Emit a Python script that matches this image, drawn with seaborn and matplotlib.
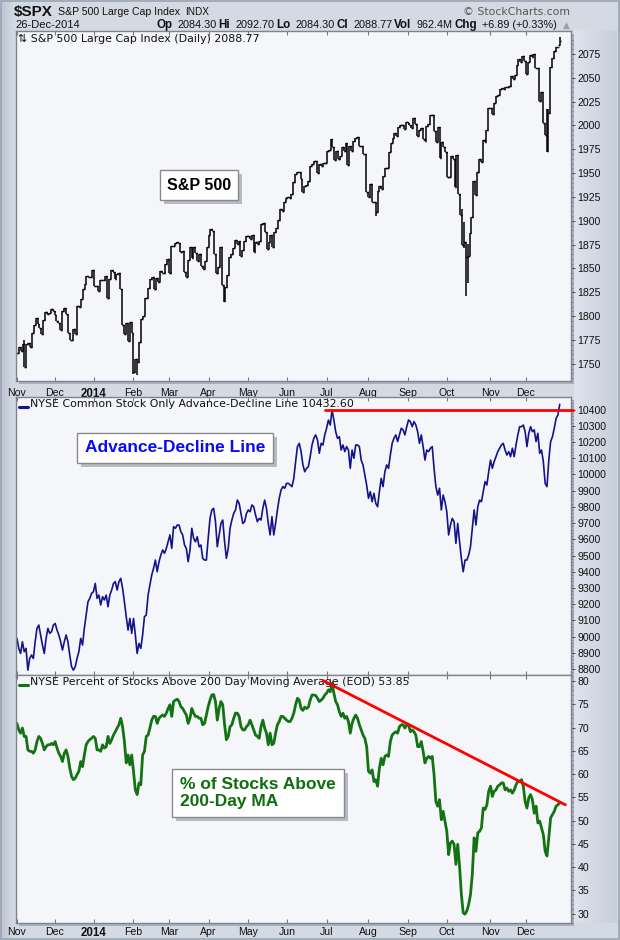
import numpy as np
import pandas as pd
import matplotlib
matplotlib.use("Agg")
import matplotlib.pyplot as plt
import matplotlib.patheffects as pe
from matplotlib.patches import Rectangle
from matplotlib.ticker import FixedLocator, MultipleLocator, NullFormatter
import seaborn as sns

# ---------------- DATA ----------------
holidays = ["2013-11-28", "2013-12-25", "2014-01-01", "2014-01-20", "2014-02-17",
            "2014-04-18", "2014-05-26", "2014-07-04", "2014-09-01", "2014-11-27",
            "2014-12-25", "2015-01-01"]

nov13 = [1761.6, 1767.9, 1763.0, 1770.5, 1747.2, 1770.6, 1771.9, 1768.0, 1782.0, 1790.6,
         1798.2, 1791.5, 1787.9, 1781.4, 1795.9, 1804.8, 1802.5, 1802.8, 1807.2, 1805.8]
dec13 = [1800.9, 1795.2, 1792.8, 1785.0, 1805.1, 1808.4, 1802.6, 1782.2, 1775.5, 1775.3,
         1786.5, 1781.0, 1810.7, 1809.6, 1818.3, 1828.0, 1833.3, 1842.0, 1841.4, 1841.1, 1848.4]
jan14 = [1832.0, 1831.4, 1826.8, 1837.9, 1837.5, 1838.1, 1842.4, 1819.2, 1838.9, 1848.4,
         1845.9, 1838.7, 1843.8, 1844.9, 1828.5, 1790.3, 1781.6, 1792.5, 1774.2, 1794.2, 1782.6]
feb14 = [1741.9, 1755.2, 1751.6, 1773.4, 1797.0, 1799.8, 1819.3, 1819.3, 1829.8, 1838.6,
         1840.8, 1828.8, 1839.8, 1836.3, 1847.6, 1845.1, 1845.2, 1854.3, 1859.5]
mar14 = [1845.7, 1873.8, 1873.8, 1877.0, 1878.0, 1877.2, 1867.6, 1868.2, 1846.3, 1841.1,
         1858.8, 1872.3, 1860.8, 1872.0, 1866.5, 1857.4, 1865.6, 1852.6, 1849.0, 1857.6, 1872.3]
apr14 = [1885.5, 1890.9, 1888.8, 1865.1, 1845.0, 1852.0, 1872.2, 1833.1, 1815.7, 1830.6,
         1843.0, 1862.3, 1864.9, 1871.9, 1879.6, 1875.4, 1878.6, 1863.4, 1869.4, 1878.3, 1884.0]
may14 = [1883.7, 1881.1, 1884.7, 1867.7, 1878.2, 1875.6, 1878.5, 1896.7, 1897.5, 1888.5,
         1870.9, 1877.9, 1885.1, 1872.8, 1888.0, 1892.5, 1900.5, 1911.9, 1909.8, 1920.0, 1923.6]
jun14 = [1925.0, 1924.2, 1927.9, 1940.5, 1949.4, 1951.3, 1950.8, 1943.9, 1930.1, 1936.2,
         1937.8, 1942.0, 1957.0, 1959.5, 1962.9, 1962.6, 1950.0, 1959.5, 1957.2, 1961.0, 1960.2]
jul14 = [1973.3, 1974.6, 1985.4, 1977.7, 1963.7, 1972.8, 1964.7, 1967.6, 1977.1, 1973.3,
         1981.6, 1958.1, 1978.2, 1973.6, 1983.5, 1987.0, 1988.0, 1978.3, 1978.9, 1970.0, 1970.1, 1930.7]
aug14 = [1925.2, 1939.0, 1920.2, 1920.2, 1909.6, 1931.6, 1936.9, 1933.8, 1946.7, 1955.2,
         1955.1, 1971.7, 1981.6, 1986.5, 1992.4, 1988.4, 1997.9, 2000.0, 2000.1, 1996.7, 2003.4]
sep14 = [2002.3, 2000.7, 1997.7, 2007.7, 2001.5, 1988.4, 1995.7, 1997.5, 1985.5, 1984.1,
         1999.0, 2001.6, 2011.4, 2010.4, 1994.3, 1982.8, 1998.3, 1966.0, 1982.9, 1977.8, 1972.3]
oct14 = [1946.2, 1946.2, 1967.9, 1964.8, 1935.1, 1968.9, 1928.2, 1906.1, 1874.7, 1877.7,
         1862.5, 1862.8, 1886.8, 1904.0, 1941.3, 1927.1, 1950.8, 1964.6, 1961.6, 1985.1,
         1982.3, 1994.7, 2018.1]
nov14 = [2017.8, 2012.1, 2023.6, 2031.2, 2032.0, 2038.3, 2039.7, 2038.3, 2039.8, 2039.8,
         2041.3, 2051.8, 2048.7, 2052.8, 2063.5, 2069.4, 2067.0, 2072.8, 2067.6]
dec14 = [2053.4, 2066.6, 2074.3, 2071.9, 2075.4, 2060.3, 2059.8, 2026.1, 2035.3, 2002.3,
         1989.6, 1972.7, 2012.9, 2061.2, 2070.7, 2078.5, 2082.2, 2081.88, 2088.77]

spx_close = (nov13 + dec13 + jan14 + feb14 + mar14 + apr14 + may14 + jun14 + jul14 +
             aug14 + sep14 + oct14 + nov14 + dec14)

# intraday extremes that reach beyond the close-to-close span
spx_high_extra = {"2013-11-07": 1774.5, "2014-10-13": 1912.1, "2014-10-14": 1898.7,
                  "2014-10-15": 1874.1, "2014-10-16": 1876.0, "2014-12-16": 2016.9,
                  "2014-12-17": 2016.8, "2014-12-26": 2092.7}
spx_low_extra = {"2013-11-07": 1746.4, "2014-02-03": 1739.7, "2014-02-05": 1737.9,
                 "2014-04-11": 1814.4, "2014-08-07": 1904.8, "2014-10-13": 1874.1,
                 "2014-10-14": 1871.8, "2014-10-15": 1820.7, "2014-10-16": 1835.0,
                 "2014-12-16": 1972.6, "2014-12-17": 1974.0}
spx_open_extra = {"2014-12-26": 2084.3}
spx_volume_text = "962.4M"

ad_line = [8989, 8927, 8896, 8968, 8907, 8927, 8793, 8865, 8886, 8865, 8968, 9051, 9071, 9010,
           8948, 8896, 8989, 9051, 9020, 9030, 9071, 9081, 9040, 9010, 8968, 8917, 8968, 9010,
           8968, 8886, 8814, 8793, 8814, 8865, 8907, 8989, 8948, 9051, 9133, 9215, 9236, 9267,
           9277, 9328, 9236, 9256, 9195, 9246, 9226, 9256, 9184, 9256, 9287, 9328, 9339, 9287,
           9339, 9359, 9298, 9215, 9123, 9040, 9112, 9020, 9112, 9010, 8896, 8958, 8927, 9010,
           9123, 9133, 9256, 9318, 9380, 9421, 9472, 9400, 9462, 9503, 9534, 9514, 9544, 9585,
           9627, 9544, 9678, 9668, 9688, 9688, 9647, 9627, 9565, 9544, 9462, 9534, 9668, 9606,
           9585, 9616, 9554, 9565, 9483, 9472, 9472, 9606, 9729, 9781, 9791, 9709, 9554, 9627,
           9698, 9719, 9585, 9483, 9544, 9668, 9719, 9760, 9781, 9842, 9822, 9760, 9698, 9709,
           9760, 9781, 9770, 9812, 9801, 9750, 9709, 9729, 9719, 9791, 9842, 9791, 9698, 9627,
           9740, 9627, 9698, 9781, 9853, 9904, 9925, 9915, 9945, 9945, 9935, 9925, 9976, 10079,
           10172, 10192, 10141, 10059, 10017, 10038, 10048, 10110, 10182, 10223, 10244, 10213,
           10131, 10192, 10182, 10244, 10285, 10336, 10305, 10398, 10336, 10264, 10223, 10233,
           10151, 10182, 10141, 10172, 10151, 10038, 10151, 10100, 10182, 10182, 10172, 10089,
           10059, 9997, 9935, 9853, 9894, 9832, 9884, 9822, 9801, 9894, 9976, 9925, 10017, 10059,
           10038, 10120, 10192, 10223, 10244, 10203, 10244, 10285, 10275, 10244, 10295, 10336,
           10326, 10295, 10326, 10305, 10264, 10192, 10244, 10172, 10089, 10151, 10141, 10162,
           10172, 10038, 9925, 9873, 9915, 9781, 9873, 9832, 9770, 9627, 9688, 9729, 9709, 9575,
           9698, 9585, 9483, 9400, 9472, 9472, 9503, 9554, 9668, 9781, 9688, 9801, 9842, 9832,
           9894, 9956, 9935, 10017, 10089, 10038, 10079, 10110, 10141, 10162, 10182, 10192,
           10151, 10120, 10141, 10110, 10162, 10110, 10182, 10244, 10295, 10295, 10305, 10264,
           10172, 10254, 10295, 10264, 10275, 10203, 10254, 10131, 10151, 10079, 9945, 9925,
           10089, 10203, 10233, 10285, 10346, 10367, 10432.6]

pct_above_200 = [70.9, 69.5, 68.8, 69.9, 68.1, 68.1, 65.2, 64.9, 64.9, 64.5, 65.2, 67.0, 68.1,
                 67.7, 66.6, 65.2, 65.9, 66.3, 66.3, 66.6, 66.3, 67.0, 65.6, 64.5, 63.8, 62.7,
                 64.5, 65.2, 63.8, 61.3, 59.5, 58.8, 59.1, 59.9, 60.6, 62.7, 61.6, 64.1, 66.3,
                 67.0, 67.4, 67.7, 68.1, 67.7, 65.2, 65.2, 64.9, 66.3, 65.6, 65.9, 68.1, 66.6,
                 67.4, 68.4, 69.1, 69.9, 70.6, 72.0, 70.2, 67.0, 62.4, 64.1, 62.0, 64.1, 60.6,
                 56.6, 55.6, 58.1, 57.7, 64.1, 64.9, 68.1, 68.4, 69.9, 71.6, 72.4, 72.4, 70.9,
                 72.0, 72.4, 72.7, 72.4, 73.1, 74.1, 74.9, 72.4, 75.6, 75.9, 76.1, 75.6, 74.5,
                 74.1, 73.4, 72.7, 70.9, 72.0, 74.1, 73.1, 72.4, 72.4, 72.0, 72.0, 70.6, 70.9,
                 72.7, 74.5, 75.9, 77.0, 77.1, 75.6, 71.6, 74.1, 75.6, 74.9, 70.6, 67.4, 68.1,
                 70.2, 70.6, 72.0, 73.1, 73.1, 72.4, 70.2, 69.5, 69.5, 70.2, 70.6, 71.6, 70.6,
                 69.5, 68.4, 68.1, 67.7, 70.2, 71.6, 69.9, 68.8, 66.3, 68.8, 66.3, 66.6, 68.8,
                 70.6, 71.3, 72.4, 72.4, 72.0, 71.6, 71.3, 71.3, 72.0, 73.1, 74.9, 76.3, 75.9,
                 74.1, 73.7, 74.4, 74.1, 74.4, 75.9, 77.0, 77.0, 76.9, 76.3, 75.6, 75.9, 76.3,
                 77.0, 77.4, 78.1, 77.7, 79.5, 77.4, 75.6, 74.9, 73.4, 72.4, 73.1, 72.0, 72.4,
                 71.3, 68.8, 70.9, 72.0, 72.7, 72.0, 70.6, 69.5, 68.4, 67.7, 65.9, 60.6, 60.2,
                 60.9, 58.4, 58.8, 57.4, 61.3, 63.4, 62.0, 63.8, 64.1, 63.8, 67.0, 68.4, 68.8,
                 69.1, 68.8, 70.2, 70.6, 70.6, 69.9, 70.6, 70.6, 69.1, 69.5, 69.1, 68.4, 65.9,
                 65.9, 67.0, 64.9, 62.4, 63.4, 63.8, 63.4, 63.8, 59.9, 54.1, 53.1, 54.5, 50.2,
                 52.0, 49.9, 47.7, 42.7, 45.2, 45.6, 44.9, 40.6, 44.9, 40.2, 34.1, 30.2, 29.9,
                 30.6, 32.0, 34.1, 38.4, 46.3, 43.4, 47.4, 47.7, 48.4, 52.7, 52.4, 53.4, 56.3,
                 57.4, 55.2, 56.3, 56.6, 57.4, 57.7, 58.1, 58.1, 56.6, 57.0, 56.3, 56.6, 55.9,
                 56.6, 57.7, 58.4, 58.4, 58.8, 57.4, 54.1, 52.7, 54.9, 55.6, 54.5, 51.6, 53.1,
                 49.5, 49.9, 48.4, 47.0, 43.4, 42.4, 46.3, 50.6, 51.3, 52.0, 53.1, 53.4, 53.85]

# annotation lines (date, value)
ad_resistance = (("2014-06-30", 10400), ("2015-01-07", 10400))
pct_trend = (("2014-06-27", 80.1), ("2014-12-31", 53.4))

month_labels = ["Nov", "Dec", "2014", "Feb", "Mar", "Apr", "May", "Jun", "Jul", "Aug",
                "Sep", "Oct", "Nov", "Dec"]
spx_ticks = list(range(1750, 2076, 25))
ad_ticks = list(range(8800, 10401, 100))
pct_ticks = list(range(30, 81, 5))

# ---------------- PREP ----------------
dates_ext = pd.bdate_range("2013-11-01", "2015-01-09", freq="C", holidays=holidays)
pos = {d.strftime("%Y-%m-%d"): i for i, d in enumerate(dates_ext)}
n = len(spx_close)
dates = dates_ext[:n]
idx = np.arange(n)

close = np.array(spx_close, float)
opn = np.concatenate([[close[0]], close[:-1]])
for d, v in spx_open_extra.items():
    opn[pos[d]] = v
high = np.maximum(opn, close)
low = np.minimum(opn, close)
for d, v in spx_high_extra.items():
    high[pos[d]] = max(high[pos[d]], v)
for d, v in spx_low_extra.items():
    low[pos[d]] = min(low[pos[d]], v)

ad_x = np.linspace(0, n - 1, len(ad_line))
pct_x = np.linspace(0, n - 1, len(pct_above_200))
ad_df = pd.DataFrame({"x": ad_x, "y": ad_line})
pct_df = pd.DataFrame({"x": pct_x, "y": pct_above_200})

month_starts = [i for i in range(n) if i == 0 or dates[i].month != dates[i - 1].month]

# ---------------- STYLE ----------------
sns.set_theme(style="white")
plt.rcParams["font.family"] = ["DejaVu Sans"]
LS = "Liberation Sans"

W, H = 620, 940
fig = plt.figure(figsize=(W / 100, H / 100), dpi=100)
fig.patch.set_facecolor("#d4dae3")

# background layer: gradient strips, panel shadows, outer border
bg = fig.add_axes([0, 0, 1, 1], zorder=-10)
bg.set_xlim(0, W); bg.set_ylim(H, 0)
bg.axis("off")
grad = np.ones((10, 200, 3))
c_in = np.array([0.87, 0.89, 0.93])
c_out = np.array([0.78, 0.81, 0.86])
for k in range(200):
    t = k / 199
    grad[:, k, :] = c_in * (1 - t) + c_out * t
bg.imshow(grad, extent=[574, 617, 923, 30], aspect="auto", zorder=1)
gl = np.ones((10, 60, 3))
for k in range(60):
    t = k / 59
    gl[:, k, :] = np.array([0.74, 0.77, 0.82]) * (1 - t) + np.array([0.83, 0.855, 0.89]) * t
bg.imshow(gl, extent=[1, 14, 939, 1], aspect="auto", zorder=1)
bg.set_xlim(0, W); bg.set_ylim(H, 0)

def rect(l, t, r, b):
    return [l / W, 1 - b / H, (r - l) / W, (b - t) / H]

panels = [(16, 31, 571, 381), (16, 397, 571, 675), (16, 675, 571, 923)]
for (l, t, r, b) in panels:
    bg.add_patch(Rectangle((l + 3, t + 3), r - l, b - t, facecolor="#aab1bd",
                           edgecolor="none", zorder=2))
bg.add_patch(Rectangle((1, 1), W - 2, H - 2, fill=False, edgecolor="#9aa3b1", lw=1.2,
                       zorder=3))

ax1 = fig.add_axes(rect(*panels[0]))
ax2 = fig.add_axes(rect(*panels[1]))
ax3 = fig.add_axes(rect(*panels[2]))

XL = (-0.5, 295)
for ax in (ax1, ax2, ax3):
    ax.set_facecolor("#f5f6fa")
    ax.set_xlim(*XL)
    for s in ax.spines.values():
        s.set_color("#7d8490")
        s.set_linewidth(1.0)
    ax.yaxis.tick_right()
    ax.tick_params(axis="y", which="major", direction="out", length=3, width=0.8,
                   color="#555555", pad=1.5, labelsize=7.6, labelcolor="#111111",
                   left=False, right=True)
    ax.tick_params(axis="y", which="minor", direction="out", length=1.5, width=0.6,
                   color="#777777", left=False, right=True)
    ax.xaxis.set_major_locator(FixedLocator(month_starts))
    ax.tick_params(axis="x", which="major", direction="in", length=3, width=0.8,
                   color="#777777", top=True, bottom=True, pad=5, labelsize=7.6,
                   labelcolor="#111111")
ax3.tick_params(axis="x", which="major", pad=3)

# ---- top: S&P 500 OHLC bars ----
ax1.vlines(idx, low, high, color="black", lw=1.1)
ax1.hlines(opn, idx - 0.8, idx, color="black", lw=1.0)
ax1.hlines(close, idx, idx + 0.8, color="black", lw=1.0)
ax1.set_ylim(1732, 2099)
ax1.yaxis.set_major_locator(FixedLocator(spx_ticks))
ax1.yaxis.set_minor_locator(MultipleLocator(5))

# ---- middle: advance-decline ----
sns.lineplot(data=ad_df, x="x", y="y", ax=ax2, color="#14148a", linewidth=1.2,
             estimator=None, sort=False)
ax2.set_ylim(8763, 10478)
ax2.yaxis.set_major_locator(FixedLocator(ad_ticks))
ax2.yaxis.set_minor_locator(MultipleLocator(20))
(d0, v0), (d1, v1) = ad_resistance
ax2.plot([pos[d0], pos[d1]], [v0, v1], color="#ff0000", lw=2.0, clip_on=False, zorder=5)

# ---- bottom: % above 200 dma ----
sns.lineplot(data=pct_df, x="x", y="y", ax=ax3, color="#137313", linewidth=2.0,
             estimator=None, sort=False)
ax3.set_ylim(28.0, 81.3)
ax3.yaxis.set_major_locator(FixedLocator(pct_ticks))
ax3.yaxis.set_minor_locator(MultipleLocator(1))
(d0, v0), (d1, v1) = pct_trend
ax3.plot([pos[d0], pos[d1]], [v0, v1], color="#ff0000", lw=2.0, clip_on=False, zorder=5)

for ax in (ax1, ax2, ax3):
    ax.set_xlim(*XL)
    ax.set_xlabel(""); ax.set_ylabel("")
    for lb in ax.get_yticklabels():
        lb.set_fontfamily(LS)

for ax in (ax1, ax3):
    ax.set_xticklabels(month_labels)
    for lb in ax.get_xticklabels():
        lb.set_fontfamily(LS)
        if lb.get_text() == "2014":
            lb.set_fontweight("bold")
            lb.set_fontsize(8.3)
ax2.xaxis.set_major_formatter(NullFormatter())

# ---- in-panel legends ----
LF = 7.9
ax1.text(0.004, 0.993, "\u21c5 S&P 500 Large Cap Index (Daily) %.2f" % close[-1],
         transform=ax1.transAxes, ha="left", va="top", fontsize=LF, color="#111111")
ax2.plot([0.006, 0.022], [0.965, 0.965], transform=ax2.transAxes, color="#14148a", lw=2.2)
ax2.text(0.026, 0.992, "NYSE Common Stock Only Advance-Decline Line %.2f" % ad_line[-1],
         transform=ax2.transAxes, ha="left", va="top", fontsize=LF, color="#111111")
ax3.plot([0.006, 0.022], [0.961, 0.961], transform=ax3.transAxes, color="#137313", lw=2.2)
ax3.text(0.026, 0.992, "NYSE Percent of Stocks Above 200 Day Moving Average (EOD) %.2f"
         % pct_above_200[-1], transform=ax3.transAxes, ha="left", va="top", fontsize=LF,
         color="#111111")

# ---- labelled boxes ----
shadow = [pe.withSimplePatchShadow(offset=(3, -3), shadow_rgbFace="#b5bac3", alpha=1.0)]
def boxed(x, y, txt, color, size, ha="center"):
    t = fig.text(x / W, 1 - y / H, txt, ha=ha, va="center", fontsize=size,
                 fontweight="bold", color=color, family=LS, linespacing=1.15,
                 bbox=dict(boxstyle="square,pad=0.45", facecolor="white",
                           edgecolor="#8a8a8a", linewidth=1.0))
    t.get_bbox_patch().set_path_effects(shadow)
    return t

boxed(199, 185, "S&P 500", "black", 11.5)
boxed(175, 448, "Advance-Decline Line", "#0a0af5", 12.5)
boxed(180, 793, "% of Stocks Above\n200-Day MA", "#0e6e0e", 12.5, ha="left")

# ---- header ----
fig.text(14 / W, 1 - 12 / H, "$SPX", ha="left", va="center", fontsize=11,
         fontweight="bold", family=LS, color="#111111")
fig.text(58 / W, 1 - 12 / H, "S&P 500 Large Cap Index", ha="left", va="center",
         fontsize=7.6, family=LS, color="#111111")
fig.text(185 / W, 1 - 12 / H, "INDX", ha="left", va="center", fontsize=7.2,
         family=LS, color="#111111")
fig.text(570 / W, 1 - 12 / H, "\u00a9 StockCharts.com", ha="right", va="center",
         fontsize=7.8, family="DejaVu Sans", color="#555555")
fig.text(15 / W, 1 - 25 / H, dates[-1].strftime("%d-%b-%Y"), ha="left", va="center",
         fontsize=8.0, family=LS, color="#111111")

chg = close[-1] - close[-2]
pieces = [("Op", True), ("%.2f" % opn[-1], False), ("Hi", True), ("%.2f" % high[-1], False),
          ("Lo", True), ("%.2f" % low[-1], False), ("Cl", True), ("%.2f" % close[-1], False),
          ("Vol", True), (spx_volume_text, False), ("Chg", True),
          ("%+.2f (%+.2f%%)" % (chg, chg / close[-2] * 100), False)]
renderer = fig.canvas.get_renderer()
xr = 557
for txt, bold in reversed(pieces):
    t = fig.text(xr / W, 1 - 25 / H, txt, ha="right", va="center", family=LS,
                 fontsize=8.4 if bold else 7.8, fontweight="bold" if bold else "normal",
                 color="#111111")
    w = t.get_window_extent(renderer).width
    xr -= w + (2 if bold else 5)
fig.text(566 / W, 1 - 25 / H, "\u25b2", ha="center", va="center", fontsize=6.5,
         color="#9aa0aa", family="DejaVu Sans")

fig.savefig("out.png", dpi=100, facecolor=fig.get_facecolor())
